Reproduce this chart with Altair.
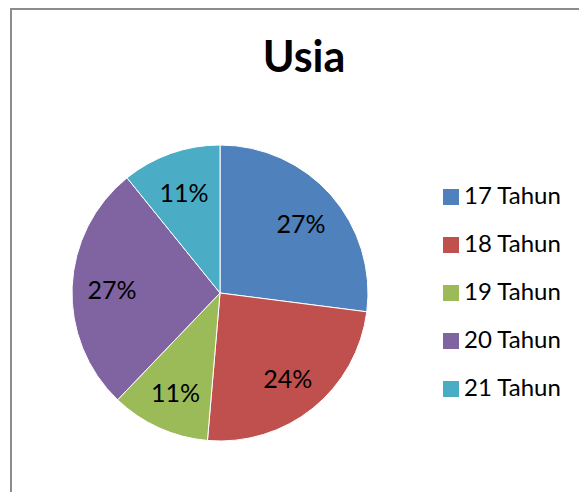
import altair as alt
import pandas as pd

categories = ["17 Tahun", "18 Tahun", "19 Tahun", "20 Tahun", "21 Tahun"]
counts = [10, 9, 4, 10, 4]
pct_labels = ["27%", "24%", "11%", "27%", "11%"]
colors = ["#4F81BD", "#C0504D", "#9BBB59", "#8064A2", "#4BACC6"]
title_text = "Usia"

df = pd.DataFrame({"cat": categories, "n": counts, "label": pct_labels, "idx": list(range(len(categories)))})

FONT = "Lato"
CX, CY, R = 220, 293, 148

base = alt.Chart(df).encode(
    theta=alt.Theta("n:Q", stack=True),
    order=alt.Order("idx:Q"),
)

pie = base.mark_arc(outerRadius=R, stroke="white", strokeWidth=1).encode(
    x=alt.value(CX),
    y=alt.value(CY),
    color=alt.Color(
        "cat:N",
        scale=alt.Scale(domain=categories, range=colors),
        legend=alt.Legend(
            title=None,
            orient="none",
            legendX=439,
            legendY=185,
            symbolType="square",
            symbolSize=256,
            symbolStrokeWidth=0,
            labelFontSize=24,
            labelFont=FONT,
            labelColor="#000000",
            labelOffset=1,
            rowPadding=24,
            padding=0,
        ),
    ),
)

text = base.mark_text(radius=108, fontSize=25, font=FONT, color="#000000", dy=3).encode(
    x=alt.value(CX),
    y=alt.value(CY),
    text="label:N",
)

one = pd.DataFrame({"a": [0]})
border = alt.Chart(one).mark_rect(filled=False, stroke="#8c8c8c", strokeWidth=2).encode(
    x=alt.value(11), x2=alt.value(700), y=alt.value(9), y2=alt.value(700)
)
title = alt.Chart(one).mark_text(
    fontSize=43, fontWeight="bold", font=FONT, color="#000000", baseline="alphabetic", align="center"
).encode(x=alt.value(304), y=alt.value(72), text=alt.value(title_text))

chart = alt.layer(border, pie, text, title).properties(
    width=579, height=492, autosize=alt.AutoSizeParams(type="none"), padding=0
).configure_view(strokeWidth=0)

chart.save("out.html", embed_options={"renderer": "svg", "actions": False})
